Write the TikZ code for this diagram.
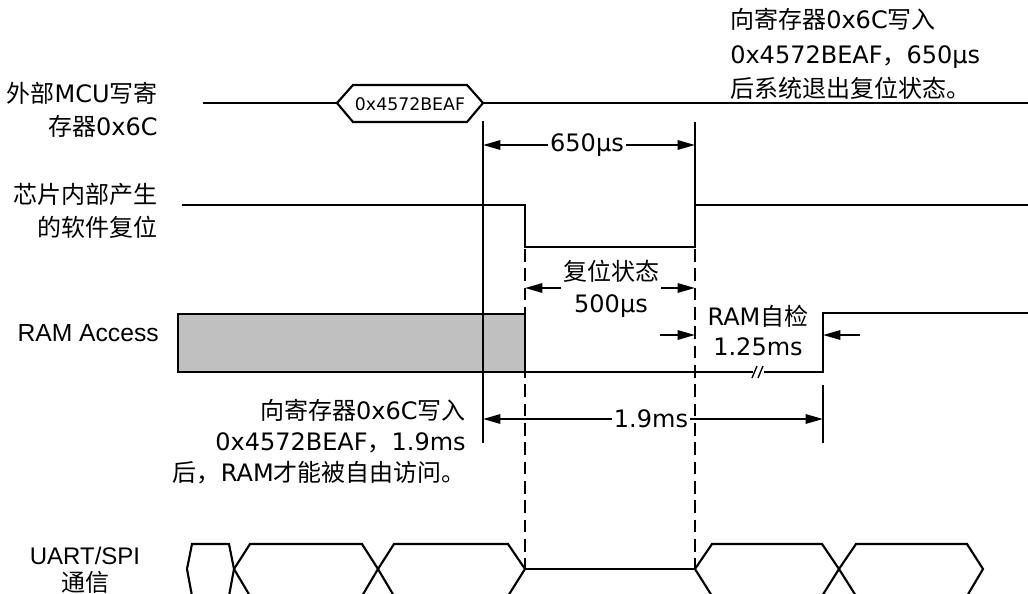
\documentclass[tikz,border=0pt]{standalone}
\usepackage{fontspec}
\setmainfont{DejaVu Sans}
\newfontfamily\cjk{Noto Sans CJK SC}
\newfontfamily\arialf{Liberation Sans}
\newcommand\zh[1]{{\cjk #1}}
\usetikzlibrary{arrows.meta}
\definecolor{ramgray}{RGB}{192,192,192}
\begin{document}
\begin{tikzpicture}[x=0.75pt,y=-0.75pt,
  sig/.style={line width=1.6pt, line join=miter},
  ext/.style={line width=1.6pt},
  dashv/.style={line width=1.6pt, dash pattern=on 9.5pt off 5pt},
  dimline/.style={line width=1.5pt, {Triangle[length=13pt,width=7pt]}-{Triangle[length=13pt,width=7pt]}},
  oneway/.style={line width=1.5pt, -{Triangle[length=13pt,width=7pt]}},
  txt/.style={font=\fontsize{18}{25}\selectfont, inner sep=0pt},
  lbl/.style={txt, anchor=east, align=right},
  dimtxt/.style={txt, fill=white, inner sep=1.5pt}
]
\clip (0,0) rectangle (1028,593);
\useasboundingbox (0,0) rectangle (1028,593);

% ---------- labels ----------
\node[lbl] (l1) at (158,110) {\zh{外部}MCU\zh{写寄}\\\zh{存器}0x6C};
\node[lbl] (l2) at (158,211) {\zh{芯片内部产生}\\\zh{的软件复位}};
\node[lbl, font=\arialf\fontsize{18.5}{25}\selectfont] (l3) at (159,333) {RAM Access};
\node[txt, align=center, font=\arialf\fontsize{18}{20}\selectfont] (l4) at (85,570) {UART/SPI\\\zh{通信}};

% ---------- row 1: MCU write ----------
\coordinate (r1a) at (203,103);
\coordinate (hxL) at (337,103);
\coordinate (hxR) at (483,103);
\coordinate (r1b) at (1030,103);
\draw[sig] (r1a) -- (hxL);
\draw[sig] (hxL) -- (353,85) -- (467,85) -- (hxR) -- (467,122) -- (353,122) -- cycle;
\draw[sig] (hxR) -- (r1b);
\node[inner sep=0pt, font=\fontsize{13}{15}\selectfont] (hxt) at (410,104) {0x4572BEAF};

% ---------- row 2: soft reset ----------
\draw[sig] (182,205) -- (525,205) -- (525,247) -- (695,247) -- (695,205) -- (1030,205);

% ---------- row 3: RAM access ----------
\filldraw[sig, fill=ramgray] (178,314) rectangle (525,372);
\draw[sig] (525,372) -- (753,372);
\draw[sig] (764,372) -- (823,372) -- (823,313) -- (1030,313);
\draw[line width=1pt] (752,378) -- (757,366);
\draw[line width=1pt] (758,378) -- (763,366);

% ---------- extension lines ----------
\draw[ext] (483,121) -- (483,443);
\draw[ext] (695,122) -- (695,205);
\draw[ext] (823,385) -- (823,443);
\draw[dashv] (525,249) -- (525,569);
\draw[dashv] (695,249) -- (695,569);

% ---------- dimensions ----------
\draw[dimline] (483,145) -- (695,145);
\node[dimtxt] (d650) at (587,145) {650µs};

\draw[dimline] (525,288) -- (695,288);
\node[dimtxt, align=center, font=\fontsize{18}{24}\selectfont] (d500) at (611,289) {\zh{复位状态}\\500µs};

\draw[oneway] (660,335) -- (695,335);
\draw[oneway] (860,335) -- (823,335);
\node[txt, align=center, font=\fontsize{18}{22.5}\selectfont] (dram) at (758,330) {RAM\zh{自检}\\1.25ms};

\draw[dimline] (483,419) -- (823,419);
\node[dimtxt] (d19) at (651,419) {1.9ms};

% ---------- notes ----------
\node[txt, anchor=west, align=left, font=\fontsize{18}{26}\selectfont] (n1) at (730,54)
  {\zh{向寄存器}0x6C\zh{写入}\\0x4572BEAF\zh{，}650µs\\\zh{后系统退出复位状态。}};
\node[txt, anchor=east, align=right, font=\fontsize{18}{23.25}\selectfont] (n2) at (466,442)
  {\zh{向寄存器}0x6C\zh{写入}\\0x4572BEAF\zh{，}1.9ms\\\zh{后，}RAM\zh{才能被自由访问。}};

% ---------- row 4: UART/SPI ----------
\draw[sig] (192,544) -- (229,544) -- (234,569) -- (229,596) -- (192,596) -- (187,569) -- cycle;
\draw[sig] (234,569) -- (250,544) -- (362,544) -- (378,569) -- (362,596) -- (250,596) -- cycle;
\draw[sig] (378,569) -- (394,544) -- (508,544) -- (525,569) -- (508,596) -- (394,596) -- cycle;
\draw[sig] (525,569) -- (695,569);
\draw[sig] (695,569) -- (712,544) -- (822,544) -- (839,569) -- (822,596) -- (712,596) -- cycle;
\draw[sig] (839,569) -- (856,544) -- (967,544) -- (983,569) -- (967,596) -- (856,596) -- cycle;
\end{tikzpicture}
\end{document}
